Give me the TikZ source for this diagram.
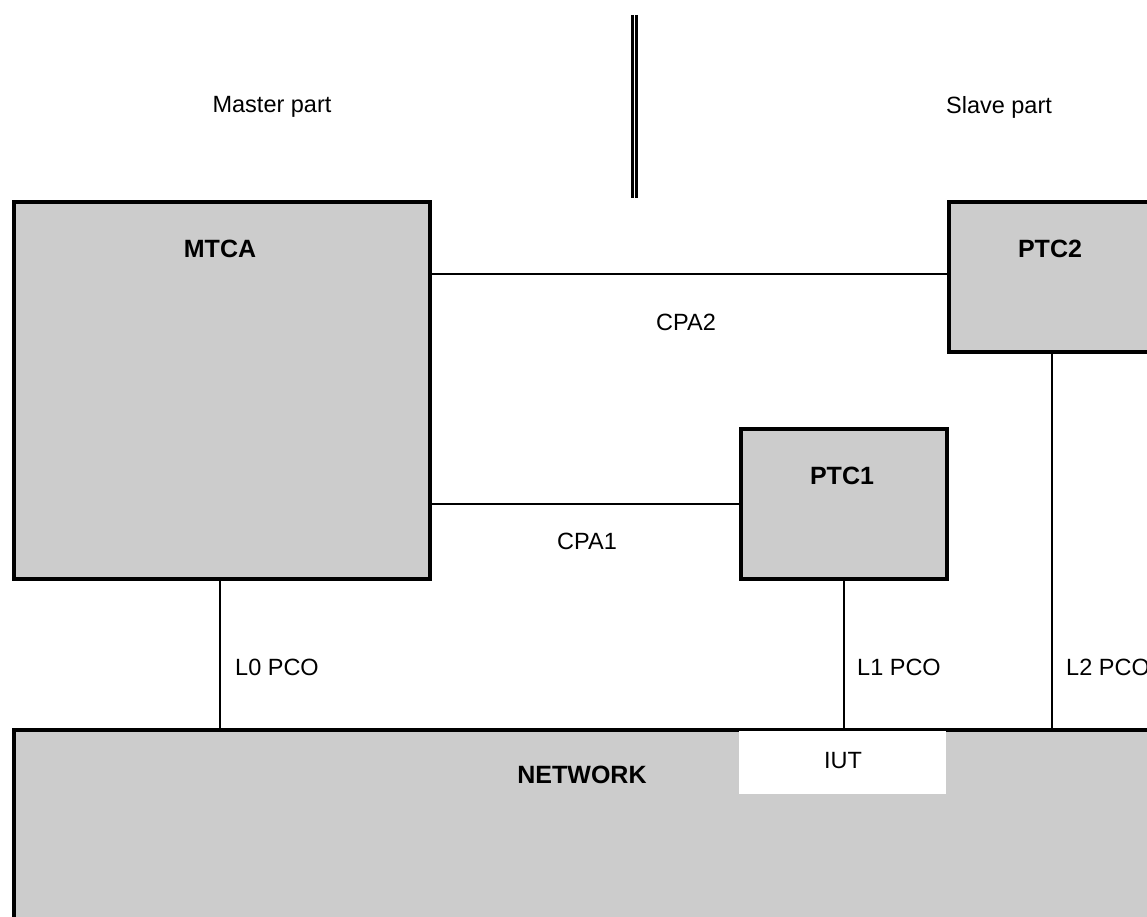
\documentclass[tikz,border=0pt]{standalone}
\usepackage{fontspec}
\setmainfont{Liberation Sans}
\begin{document}
\begin{tikzpicture}[x=1pt,y=-1pt,
  box/.style={draw=black,line width=4pt,fill=boxgray,rectangle,inner sep=0pt,anchor=north west},
  link/.style={draw=black,line width=2.2pt},
  lbl/.style={font=\fontsize{23.5}{27}\selectfont,inner sep=0pt},
  blbl/.style={font=\fontsize{25}{29}\selectfont\bfseries,inner sep=0pt}]
\definecolor{boxgray}{HTML}{CCCCCC}
\useasboundingbox (0,0) rectangle (1147,917);
\clip (0,0) rectangle (1147,917);
% boxes
\node[box,minimum width=416pt,minimum height=377pt] (mtca) at (12,200) {};
\node[box,minimum width=206pt,minimum height=150pt] (ptc1) at (739,427) {};
\node[box,minimum width=206pt,minimum height=150pt] (ptc2) at (947,200) {};
\node[box,minimum width=1141pt,minimum height=212pt] (net) at (12,728) {};
\node[fill=white,inner sep=0pt,minimum width=207pt,minimum height=63pt,anchor=north west] (iut) at (739,731) {};
% separator
\draw[line width=2.4pt] (632.5,15) -- (632.5,198);
\draw[line width=2.4pt] (636.5,15) -- (636.5,198);
% connectors
\coordinate (c2) at (0,274);
\draw[link] (mtca.east |- c2) -- (ptc2.west |- c2);
\draw[link] (mtca.east |- ptc1.west) -- (ptc1.west);
\draw[link] (mtca.south -| 220,0) -- (net.north -| 220,0);
\draw[link] (ptc1.south) -- (net.north -| ptc1.south);
\draw[link] (ptc2.south) -- (net.north -| ptc2.south);
% labels
\node[blbl] (tmtca) at (220,249) {MTCA};
\node[blbl] (tptc1) at (842,476) {PTC1};
\node[blbl] (tptc2) at (1050,249) {PTC2};
\node[blbl] (tnet) at (582,775) {NETWORK};
\node[lbl] (tiut) at (843,761) {IUT};
\node[lbl] (tmaster) at (272,107) {Master part};
\node[lbl] (tslave) at (999,107) {Slave part};
\node[lbl] (tcpa2) at (686,322) {CPA2};
\node[lbl] (tcpa1) at (587,541) {CPA1};
\node[lbl,anchor=west] (tl0) at (235,667) {L0 PCO};
\node[lbl,anchor=west] (tl1) at (857,667) {L1 PCO};
\node[lbl,anchor=west] (tl2) at (1066,667) {L2 PCO};
\end{tikzpicture}
\end{document}
